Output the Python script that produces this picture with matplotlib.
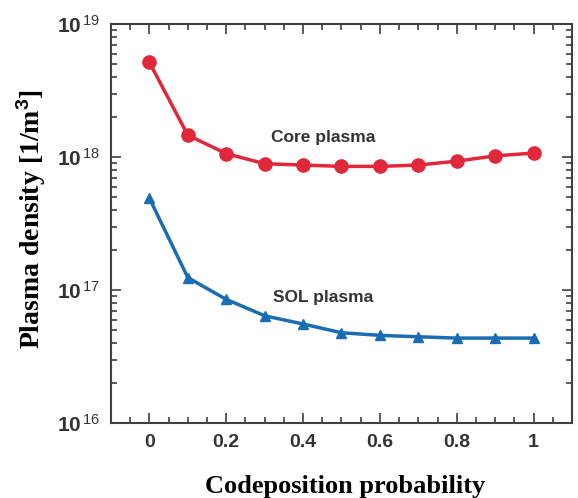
"""Plasma density vs codeposition probability (core and SOL)."""

import matplotlib
matplotlib.use("Agg")
import matplotlib.pyplot as plt
from matplotlib.ticker import FixedLocator, FixedFormatter, LogLocator, NullFormatter, MultipleLocator

# data
prob = [0.0, 0.1, 0.2, 0.3, 0.4, 0.5, 0.6, 0.7, 0.8, 0.9, 1.0]
core_density = [5.15e18, 1.46e18, 1.06e18, 8.9e17, 8.7e17, 8.5e17, 8.5e17, 8.7e17, 9.3e17, 1.02e18, 1.07e18]
sol_density = [4.9e17, 1.24e17, 8.5e16, 6.4e16, 5.55e16, 4.77e16, 4.56e16, 4.45e16, 4.35e16, 4.35e16, 4.35e16]

x_ticks = [0, 0.2, 0.4, 0.6, 0.8, 1]
x_tick_labels = ["0", "0.2", "0.4", "0.6", "0.8", "1"]
y_ticks = [1e16, 1e17, 1e18, 1e19]
y_tick_labels = [r"$\mathbf{10}^{\,\mathrm{16}}$", r"$\mathbf{10}^{\,\mathrm{17}}$",
                 r"$\mathbf{10}^{\,\mathrm{18}}$", r"$\mathbf{10}^{\,\mathrm{19}}$"]

plt.rcParams["mathtext.fontset"] = "custom"
plt.rcParams["mathtext.rm"] = "Liberation Sans"
plt.rcParams["mathtext.bf"] = "Liberation Sans:bold"
plt.rcParams["mathtext.it"] = "Liberation Sans:italic"

red = "#e0283a"
blue = "#1a6db3"
grey = "#404040"

fig = plt.figure(figsize=(5.78, 4.98), dpi=100)
ax = fig.add_axes([0.192, 0.1506, 0.7976, 0.8012])

ax.plot(prob, core_density, color=red, lw=2.5, marker="o", ms=9.5)
ax.plot(prob, sol_density, color=blue, lw=2.5, marker="^", ms=7.5)

ax.set_yscale("log")
ax.set_xlim(-0.1, 1.1)
ax.set_ylim(1e16, 1e19)

ax.text(0.452, 1.41e18, "Core plasma", ha="center", va="center",
        fontsize=12.5, fontweight="bold", color="#333333", family="Liberation Sans")
ax.text(0.452, 8.85e16, "SOL plasma", ha="center", va="center",
        fontsize=12.5, fontweight="bold", color="#333333", family="Liberation Sans")

ax.xaxis.set_major_locator(FixedLocator(x_ticks))
ax.xaxis.set_major_formatter(FixedFormatter(x_tick_labels))
ax.xaxis.set_minor_locator(MultipleLocator(0.05))
ax.yaxis.set_major_locator(FixedLocator(y_ticks))
ax.yaxis.set_major_formatter(FixedFormatter(y_tick_labels))
ax.yaxis.set_minor_locator(LogLocator(base=10, subs=range(2, 10)))
ax.yaxis.set_minor_formatter(NullFormatter())

ax.tick_params(which="both", direction="in", top=True, right=True, color=grey, width=1.2)
ax.tick_params(which="major", length=7, labelsize=14, labelcolor="#333333", pad=8)
ax.tick_params(which="minor", length=4)
for lab in ax.get_xticklabels():
    lab.set_fontfamily("Liberation Sans")
    lab.set_fontweight("bold")
for lab in ax.get_yticklabels():
    lab.set_fontsize(15)

for sp in ax.spines.values():
    sp.set_color(grey)
    sp.set_linewidth(1.5)

ax.set_xlabel("Codeposition probability", fontsize=19, fontweight="bold",
              family="Liberation Serif")
ax.set_ylabel(r"Plasma density [1/m$^\mathbf{3}$]", fontsize=20, fontweight="bold",
              family="Liberation Serif")
ax.xaxis.set_label_coords(0.508, -0.13)
ax.yaxis.set_label_coords(-0.137, 0.511)

plt.savefig("out.png", dpi=100)
plt.close()
